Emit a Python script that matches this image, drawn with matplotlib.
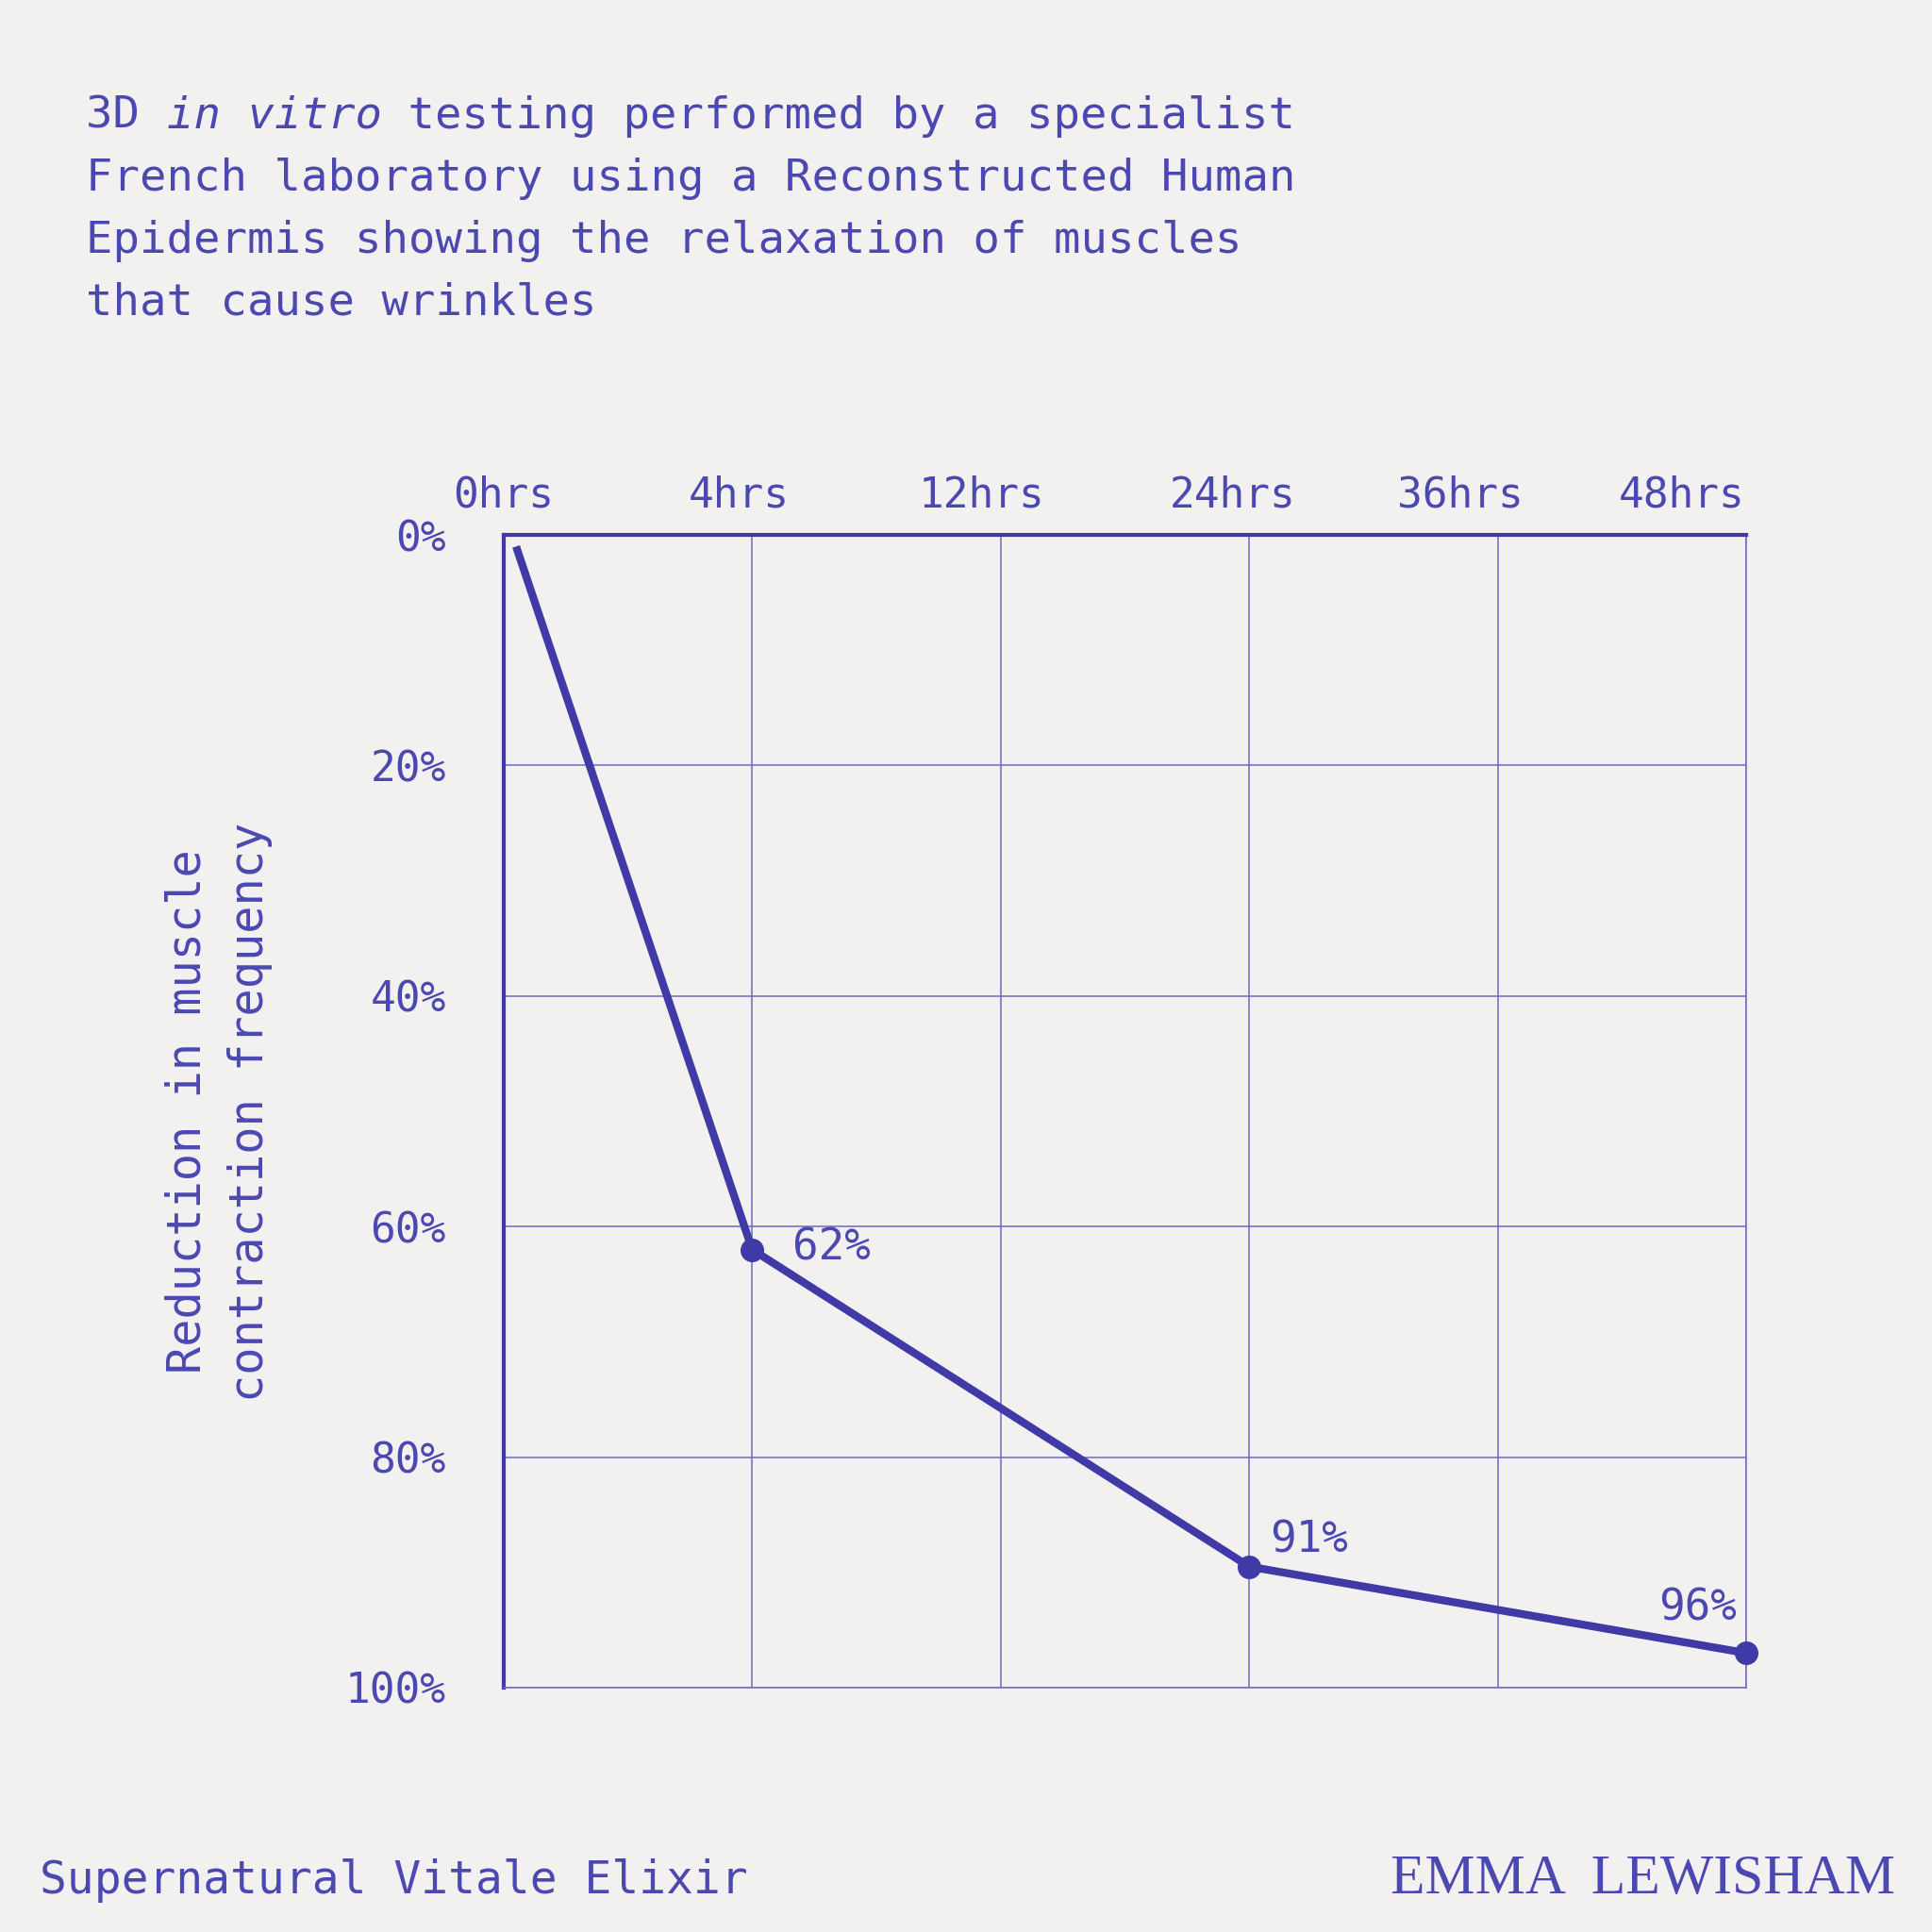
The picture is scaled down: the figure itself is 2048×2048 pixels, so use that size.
import numpy as np
import matplotlib.pyplot as plt
from matplotlib.transforms import offset_copy

# data ------------------------------------------------------------------
hours = ["0hrs", "4hrs", "12hrs", "24hrs", "36hrs", "48hrs"]
pct_ticks = [0, 20, 40, 60, 80, 100]
pt_x = [0.05, 1, 3, 5]
pt_y = [1, 62, 89.5, 97]
pt_labels = ["", "62%", "91%", "96%"]

title_lines = [
    "French laboratory using a Reconstructed Human",
    "Epidermis showing the relaxation of muscles",
    "that cause wrinkles",
]
ylabel_lines = ["Reduction in muscle", "contraction frequency"]

INK = "#3f3aa6"
TXT = "#4c48b2"
GRID = "#6d69c4"
BG = "#f2f1ef"
MONO = "DejaVu Sans Mono"

fig = plt.figure(figsize=(20.48, 20.48), dpi=100, facecolor=BG)
ax = fig.add_axes([0.2607, 0.1265, 0.6431, 0.5966])
ax.set_facecolor(BG)

ax.set_xlim(0, 5)
ax.set_ylim(100, 0)
ax.set_xticks(range(len(hours)))
ax.set_yticks(pct_ticks)
ax.set_xticklabels([])
ax.set_yticklabels([f"{v}%" for v in pct_ticks], family=MONO, fontsize=32, color=TXT)
ax.tick_params(axis="both", length=0)
ax.tick_params(axis="y", pad=44)
ax.grid(True, color=GRID, lw=1.1)

for s in ["top", "left"]:
    ax.spines[s].set_color(INK)
    ax.spines[s].set_linewidth(3)
for s in ["bottom", "right"]:
    ax.spines[s].set_color(GRID)
    ax.spines[s].set_linewidth(1.1)

# x labels sit along the top, hand-placed a bit off the grid like the original
lab_pos = [0, 0.947, 1.925, 2.932, 3.85, 4.74]
top_tr = offset_copy(ax.get_xaxis_transform(), fig=fig, y=15, units="points")
for p, lab in zip(lab_pos, hours):
    ax.text(p, 1.0, lab, transform=top_tr, ha="center", va="bottom",
            family=MONO, fontsize=32, color=TXT)

ax.plot(pt_x, pt_y, color=INK, lw=6, solid_capstyle="butt", zorder=3, clip_on=False)
ax.plot(pt_x[1:], pt_y[1:], "o", color=INK, ms=17, zorder=4, clip_on=False)

offs = [(0, 0, "left"), (31, 1, "left"), (16, 20, "left"), (-7, 34, "right")]
for x, y, lab, (dx, dy, ha) in zip(pt_x, pt_y, pt_labels, offs):
    if lab:
        ax.annotate(lab, (x, y), xytext=(dx, dy), textcoords="offset points",
                    ha=ha, va="center", family=MONO, fontsize=33, color=TXT)

# title -----------------------------------------------------------------
fs = 34
adv = 0.602 * fs
x0, y0 = 0.0446, 1 - 136 / 2048
base = fig.transFigure
fig.text(x0, y0, "3D ", transform=base, family=MONO, fontsize=fs, color=TXT, va="baseline")
fig.text(x0, y0, "in vitro", transform=offset_copy(base, fig=fig, x=3 * adv, units="points"),
         family=MONO, style="italic", fontsize=fs, color=TXT, va="baseline")
fig.text(x0, y0, " testing performed by a specialist",
         transform=offset_copy(base, fig=fig, x=11 * adv, units="points"),
         family=MONO, fontsize=fs, color=TXT, va="baseline")
for k, line in enumerate(title_lines):
    fig.text(x0, y0 - (k + 1) * 66 / 2048, line, family=MONO, fontsize=fs,
             color=TXT, va="baseline")

# y label ---------------------------------------------------------------
for k, line in enumerate(ylabel_lines):
    fig.text((199 + k * 66) / 2048, 0.4245, line, rotation=90, ha="center", va="center",
             family=MONO, fontsize=35, color=TXT)

# footer ----------------------------------------------------------------
fig.text(0.0205, 0.020, "Supernatural Vitale Elixir", family=MONO, fontsize=34.5,
         color=TXT, va="baseline")
fig.text(0.981, 0.020, "EMMA  LEWISHAM", family="Liberation Serif", fontsize=43,
         color=TXT, va="baseline", ha="right")

fig.savefig("out.png", dpi=100, facecolor=BG)
